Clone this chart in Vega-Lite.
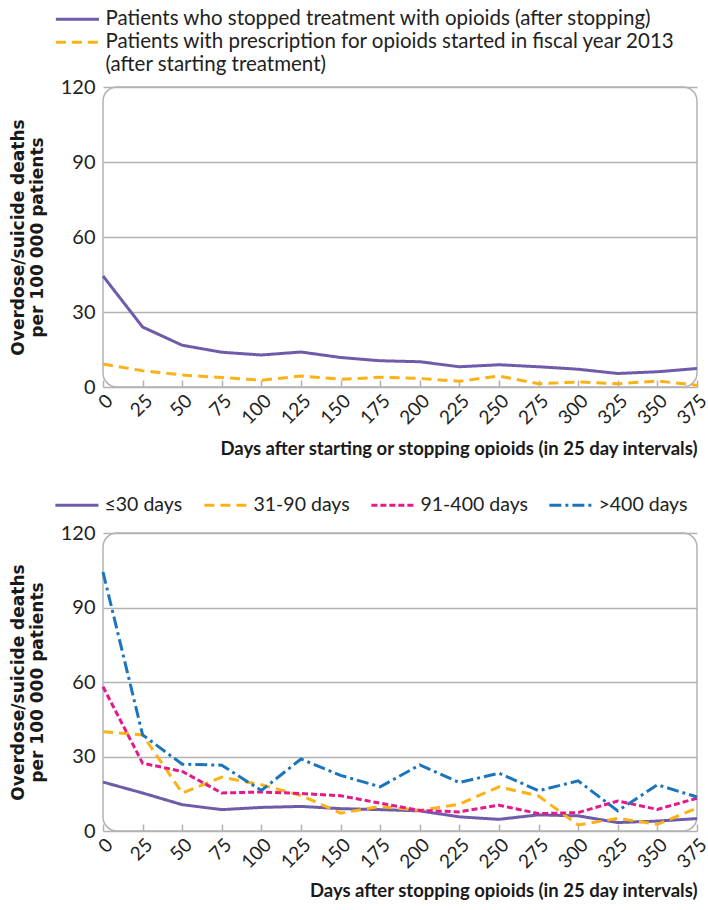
{
  "$schema": "https://vega.github.io/schema/vega-lite/v6.json",
  "padding": {"left": 8, "top": 8, "right": 11, "bottom": 0},
  "spacing": 34,
  "config": {
    "font": "Lato",
    "view": {"stroke": "#b3b3b3", "strokeWidth": 1.5, "cornerRadius": 14},
    "axis": {
      "domain": false,
      "labelFont": "Lato",
      "labelFontSize": 20,
      "labelColor": "#222",
      "gridColor": "#b3b3b3",
      "gridWidth": 1.5,
      "tickColor": "#b3b3b3",
      "tickWidth": 1.5,
      "titleColor": "#1a1a1a"
    },
    "legend": {
      "labelFont": "Lato",
      "labelFontSize": 20.5,
      "labelColor": "#222",
      "labelLimit": 0,
      "symbolType": "M-1,0H7",
      "symbolSize": 116,
      "symbolStrokeWidth": 3,
      "labelOffset": 34
    }
  },
  "datasets": {
    "top": [
      {"days": 0, "rate": 44.4, "group": "Patients who stopped treatment with opioids (after stopping)"},
      {"days": 25, "rate": 24.0, "group": "Patients who stopped treatment with opioids (after stopping)"},
      {"days": 50, "rate": 16.7, "group": "Patients who stopped treatment with opioids (after stopping)"},
      {"days": 75, "rate": 13.9, "group": "Patients who stopped treatment with opioids (after stopping)"},
      {"days": 100, "rate": 12.8, "group": "Patients who stopped treatment with opioids (after stopping)"},
      {"days": 125, "rate": 14.0, "group": "Patients who stopped treatment with opioids (after stopping)"},
      {"days": 150, "rate": 11.8, "group": "Patients who stopped treatment with opioids (after stopping)"},
      {"days": 175, "rate": 10.5, "group": "Patients who stopped treatment with opioids (after stopping)"},
      {"days": 200, "rate": 10.1, "group": "Patients who stopped treatment with opioids (after stopping)"},
      {"days": 225, "rate": 8.1, "group": "Patients who stopped treatment with opioids (after stopping)"},
      {"days": 250, "rate": 8.9, "group": "Patients who stopped treatment with opioids (after stopping)"},
      {"days": 275, "rate": 8.1, "group": "Patients who stopped treatment with opioids (after stopping)"},
      {"days": 300, "rate": 7.1, "group": "Patients who stopped treatment with opioids (after stopping)"},
      {"days": 325, "rate": 5.4, "group": "Patients who stopped treatment with opioids (after stopping)"},
      {"days": 350, "rate": 6.1, "group": "Patients who stopped treatment with opioids (after stopping)"},
      {"days": 375, "rate": 7.4, "group": "Patients who stopped treatment with opioids (after stopping)"},
      {"days": 0, "rate": 9.2, "group": "Started"},
      {"days": 25, "rate": 6.5, "group": "Started"},
      {"days": 50, "rate": 4.8, "group": "Started"},
      {"days": 75, "rate": 3.8, "group": "Started"},
      {"days": 100, "rate": 2.7, "group": "Started"},
      {"days": 125, "rate": 4.4, "group": "Started"},
      {"days": 150, "rate": 3.1, "group": "Started"},
      {"days": 175, "rate": 3.9, "group": "Started"},
      {"days": 200, "rate": 3.4, "group": "Started"},
      {"days": 225, "rate": 2.3, "group": "Started"},
      {"days": 250, "rate": 4.4, "group": "Started"},
      {"days": 275, "rate": 1.3, "group": "Started"},
      {"days": 300, "rate": 2.0, "group": "Started"},
      {"days": 325, "rate": 1.3, "group": "Started"},
      {"days": 350, "rate": 2.4, "group": "Started"},
      {"days": 375, "rate": 0.7, "group": "Started"}
    ],
    "bottom": [
      {"days": 0, "rate": 19.7, "group": "≤30 days"},
      {"days": 25, "rate": 15.3, "group": "≤30 days"},
      {"days": 50, "rate": 10.6, "group": "≤30 days"},
      {"days": 75, "rate": 8.6, "group": "≤30 days"},
      {"days": 100, "rate": 9.5, "group": "≤30 days"},
      {"days": 125, "rate": 9.9, "group": "≤30 days"},
      {"days": 150, "rate": 9.0, "group": "≤30 days"},
      {"days": 175, "rate": 8.6, "group": "≤30 days"},
      {"days": 200, "rate": 8.1, "group": "≤30 days"},
      {"days": 225, "rate": 5.7, "group": "≤30 days"},
      {"days": 250, "rate": 4.7, "group": "≤30 days"},
      {"days": 275, "rate": 6.5, "group": "≤30 days"},
      {"days": 300, "rate": 6.1, "group": "≤30 days"},
      {"days": 325, "rate": 3.4, "group": "≤30 days"},
      {"days": 350, "rate": 4.0, "group": "≤30 days"},
      {"days": 375, "rate": 5.0, "group": "≤30 days"},
      {"days": 0, "rate": 40.0, "group": "31-90 days"},
      {"days": 25, "rate": 38.7, "group": "31-90 days"},
      {"days": 50, "rate": 15.3, "group": "31-90 days"},
      {"days": 75, "rate": 21.7, "group": "31-90 days"},
      {"days": 100, "rate": 18.6, "group": "31-90 days"},
      {"days": 125, "rate": 14.3, "group": "31-90 days"},
      {"days": 150, "rate": 7.2, "group": "31-90 days"},
      {"days": 175, "rate": 9.9, "group": "31-90 days"},
      {"days": 200, "rate": 8.3, "group": "31-90 days"},
      {"days": 225, "rate": 10.8, "group": "31-90 days"},
      {"days": 250, "rate": 17.8, "group": "31-90 days"},
      {"days": 275, "rate": 14.1, "group": "31-90 days"},
      {"days": 300, "rate": 2.4, "group": "31-90 days"},
      {"days": 325, "rate": 5.1, "group": "31-90 days"},
      {"days": 350, "rate": 2.7, "group": "31-90 days"},
      {"days": 375, "rate": 9.2, "group": "31-90 days"},
      {"days": 0, "rate": 58.1, "group": "91-400 days"},
      {"days": 25, "rate": 27.3, "group": "91-400 days"},
      {"days": 50, "rate": 24.0, "group": "91-400 days"},
      {"days": 75, "rate": 15.3, "group": "91-400 days"},
      {"days": 100, "rate": 15.7, "group": "91-400 days"},
      {"days": 125, "rate": 15.1, "group": "91-400 days"},
      {"days": 150, "rate": 14.2, "group": "91-400 days"},
      {"days": 175, "rate": 11.2, "group": "91-400 days"},
      {"days": 200, "rate": 8.3, "group": "91-400 days"},
      {"days": 225, "rate": 7.7, "group": "91-400 days"},
      {"days": 250, "rate": 10.4, "group": "91-400 days"},
      {"days": 275, "rate": 7.0, "group": "91-400 days"},
      {"days": 300, "rate": 7.4, "group": "91-400 days"},
      {"days": 325, "rate": 12.1, "group": "91-400 days"},
      {"days": 350, "rate": 8.7, "group": "91-400 days"},
      {"days": 375, "rate": 13.2, "group": "91-400 days"},
      {"days": 0, "rate": 104.3, "group": ">400 days"},
      {"days": 25, "rate": 38.7, "group": ">400 days"},
      {"days": 50, "rate": 26.9, "group": ">400 days"},
      {"days": 75, "rate": 26.5, "group": ">400 days"},
      {"days": 100, "rate": 16.3, "group": ">400 days"},
      {"days": 125, "rate": 29.0, "group": ">400 days"},
      {"days": 150, "rate": 22.4, "group": ">400 days"},
      {"days": 175, "rate": 17.8, "group": ">400 days"},
      {"days": 200, "rate": 26.6, "group": ">400 days"},
      {"days": 225, "rate": 19.5, "group": ">400 days"},
      {"days": 250, "rate": 23.3, "group": ">400 days"},
      {"days": 275, "rate": 16.2, "group": ">400 days"},
      {"days": 300, "rate": 20.2, "group": ">400 days"},
      {"days": 325, "rate": 8.1, "group": ">400 days"},
      {"days": 350, "rate": 18.6, "group": ">400 days"},
      {"days": 375, "rate": 13.7, "group": ">400 days"}
    ]
  },
  "vconcat": [
    {
      "width": 594,
      "height": 300,
      "data": {"name": "top"},
      "mark": {"type": "line", "strokeWidth": 3},
      "encoding": {
        "x": {
          "field": "days", "type": "quantitative",
          "scale": {"domain": [0, 375], "nice": false, "zero": false},
          "axis": {
            "values": [0, 25, 50, 75, 100, 125, 150, 175, 200, 225, 250, 275, 300, 325, 350, 375],
            "grid": false, "labelAngle": -45, "tickSize": -7, "labelPadding": 11, "labelFontSize": 19,
            "title": "Days after starting or stopping opioids (in 25 day intervals)",
            "titleAnchor": "end", "titleFont": "Lato", "titleFontSize": 18.5, "titleFontWeight": "bold", "titlePadding": 12
          }
        },
        "y": {
          "field": "rate", "type": "quantitative",
          "scale": {"domain": [0, 120], "nice": false},
          "axis": {
            "values": [0, 30, 60, 90, 120], "ticks": false, "labelPadding": 8,
            "title": ["Overdose/suicide deaths", "per 100 000 patients"],
            "titleFont": "DejaVu Sans", "titleFontSize": 17, "titleFontWeight": "bold", "titlePadding": 14, "titleLineHeight": 19
          }
        },
        "color": {
          "field": "group", "type": "nominal",
          "scale": {
            "domain": ["Patients who stopped treatment with opioids (after stopping)", "Started"],
            "range": ["#6E5BA9", "#FBB216"]
          },
          "legend": {
            "title": null, "orient": "none", "legendX": -52, "legendY": -78, "direction": "vertical",
            "rowPadding": 2,
            "labelExpr": "datum.value == 'Started' ? ['Patients with prescription for opioids started in fiscal year 2013', '(after starting treatment)'] : datum.label"
          }
        },
        "strokeDash": {
          "field": "group", "type": "nominal",
          "scale": {
            "domain": ["Patients who stopped treatment with opioids (after stopping)", "Started"],
            "range": [[1, 0], [10, 6]]
          },
          "legend": {
            "title": null, "orient": "none", "legendX": -52, "legendY": -78, "direction": "vertical",
            "rowPadding": 2,
            "labelExpr": "datum.value == 'Started' ? ['Patients with prescription for opioids started in fiscal year 2013', '(after starting treatment)'] : datum.label"
          }
        }
      }
    },
    {
      "width": 594,
      "height": 298,
      "data": {"name": "bottom"},
      "mark": {"type": "line", "strokeWidth": 3},
      "encoding": {
        "x": {
          "field": "days", "type": "quantitative",
          "scale": {"domain": [0, 375], "nice": false, "zero": false},
          "axis": {
            "values": [0, 25, 50, 75, 100, 125, 150, 175, 200, 225, 250, 275, 300, 325, 350, 375],
            "grid": false, "labelAngle": -45, "tickSize": -7, "labelPadding": 11, "labelFontSize": 19,
            "title": "Days after stopping opioids (in 25 day intervals)",
            "titleAnchor": "end", "titleFont": "Lato", "titleFontSize": 18.5, "titleFontWeight": "bold", "titlePadding": 10
          }
        },
        "y": {
          "field": "rate", "type": "quantitative",
          "scale": {"domain": [0, 120], "nice": false},
          "axis": {
            "values": [0, 30, 60, 90, 120], "ticks": false, "labelPadding": 8,
            "title": ["Overdose/suicide deaths", "per 100 000 patients"],
            "titleFont": "DejaVu Sans", "titleFontSize": 17, "titleFontWeight": "bold", "titlePadding": 14, "titleLineHeight": 19
          }
        },
        "color": {
          "field": "group", "type": "nominal",
          "scale": {
            "domain": ["≤30 days", "31-90 days", "91-400 days", ">400 days"],
            "range": ["#6E5BA9", "#FBB216", "#E3198C", "#1C75BC"]
          },
          "legend": {
            "title": null, "orient": "none", "legendX": -52, "legendY": -38, "direction": "horizontal", "columnPadding": 15, "labelFontSize": 19.5
          }
        },
        "strokeDash": {
          "field": "group", "type": "nominal",
          "scale": {
            "domain": ["≤30 days", "31-90 days", "91-400 days", ">400 days"],
            "range": [[1, 0], [10, 6], [6, 3], [12, 4, 3, 4]]
          },
          "legend": {
            "title": null, "orient": "none", "legendX": -52, "legendY": -38, "direction": "horizontal", "columnPadding": 15, "labelFontSize": 19.5
          }
        }
      }
    }
  ],
  "resolve": {"scale": {"color": "independent", "strokeDash": "independent"}}
}
